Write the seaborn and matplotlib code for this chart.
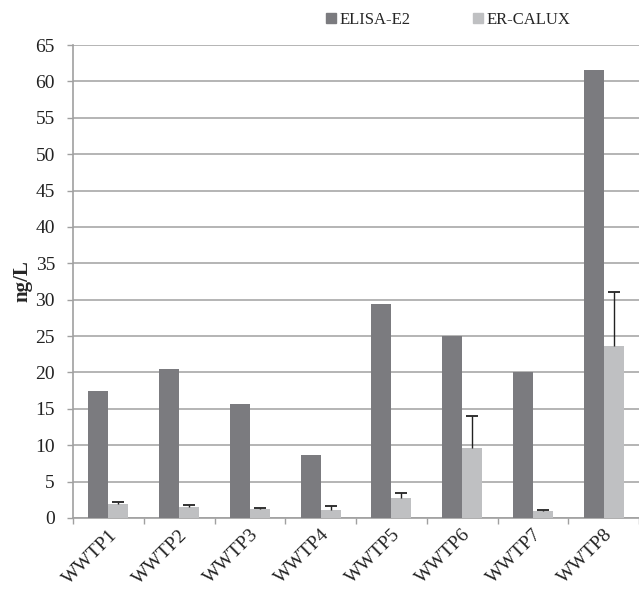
import matplotlib
matplotlib.use("Agg")
import matplotlib.pyplot as plt
from matplotlib.lines import Line2D
import numpy as np
import pandas as pd
import seaborn as sns

plants = ["WWTP1", "WWTP2", "WWTP3", "WWTP4", "WWTP5", "WWTP6", "WWTP7", "WWTP8"]
elisa_e2 = [17.4, 20.5, 15.7, 8.6, 29.4, 25.0, 20.1, 61.6]
er_calux = [1.9, 1.5, 1.2, 1.1, 2.8, 9.6, 0.9, 23.7]
er_calux_sd = [0.35, 0.3, 0.15, 0.5, 0.6, 4.4, 0.2, 7.3]
series = ["ELISA-E2", "ER-CALUX"]
colors = ["#7b7b7f", "#bfc0c2"]
yticks = list(range(0, 70, 5))

df = pd.DataFrame({
    "plant": plants * 2,
    "method": [series[0]] * len(plants) + [series[1]] * len(plants),
    "value": elisa_e2 + er_calux,
})

sns.set_theme(style="white")
plt.rcParams["font.family"] = ["Liberation Serif", "DejaVu Serif"]

fig = plt.figure(figsize=(6.39, 5.90), dpi=100)
ax = fig.add_axes([73 / 639, 1 - 518 / 590, 1 - 73 / 639, (518 - 45) / 590])

sns.barplot(data=df, x="plant", y="value", hue="method", order=plants,
            hue_order=series, palette=colors, width=0.565, errorbar=None,
            saturation=1, linewidth=0, ax=ax, legend=False, zorder=3)

# upper-only error bars on the ER-CALUX bars
er_bars = [p for p in ax.patches if p.get_height() > 0][len(plants):2 * len(plants)]
xc = [p.get_x() + p.get_width() / 2 for p in er_bars]
eb = ax.errorbar(xc, er_calux, yerr=[np.zeros(len(plants)), er_calux_sd], fmt="none",
                 ecolor="#222222", elinewidth=1.0, capsize=4, capthick=1.3, zorder=4)
eb[1][0].set_visible(False)  # hide the lower caps

ax.set_ylim(0, 65)
ax.set_xlim(-0.5, len(plants) - 0.5)
ax.set_yticks(yticks)
ax.set_yticklabels([str(t) for t in yticks], fontsize=14, color="#222222")
ax.yaxis.grid(True, color="#a8a8a8", linewidth=1.2, zorder=0)
ax.set_axisbelow(True)

# category boundaries as major ticks, labels on minor ticks at centers
ax.set_xticks(np.arange(-0.5, len(plants), 1.0))
ax.set_xticklabels([])
ax.set_xticks(np.arange(len(plants)), minor=True)
ax.set_xticklabels(plants, minor=True, rotation=45, ha="right",
                   rotation_mode="anchor", fontsize=14, color="#222222")
ax.tick_params(axis="x", which="minor", length=0, pad=6)
ax.tick_params(axis="x", which="major", length=4, width=1.0, color="#a0a0a0",
               direction="out", bottom=True)
ax.tick_params(axis="y", length=4, width=1.0, color="#a0a0a0", direction="out",
               left=True, pad=9)

for side in ["top", "right"]:
    ax.spines[side].set_visible(False)
for side in ["left", "bottom"]:
    ax.spines[side].set_color("#a0a0a0")
    ax.spines[side].set_linewidth(1.2)

ax.set_xlabel("")
ax.set_ylabel("ng/L", fontsize=15, fontweight="bold")
ax.yaxis.set_label_coords(-0.072, 0.5)

handles = [Line2D([], [], marker="s", linestyle="none", markersize=7,
                  markerfacecolor=c, markeredgecolor=c) for c in colors]
fig.legend(handles, series, loc="center", bbox_to_anchor=(0.6995, 0.966),
           ncol=2, frameon=False, fontsize=12, handletextpad=0.05,
           columnspacing=3.6, handlelength=0.9)

fig.savefig("out.png", dpi=100)
